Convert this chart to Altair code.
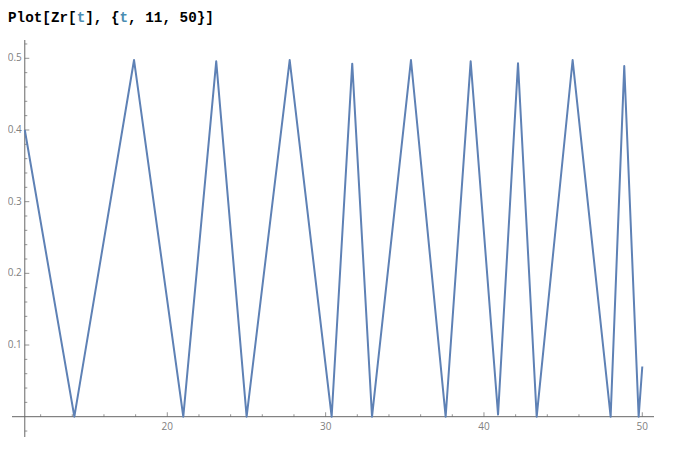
import altair as alt
import pandas as pd

# ---- data ----
t_vals = [11.0, 14.13, 17.90, 21.01, 23.09, 25.01, 27.73, 30.38, 31.68, 32.93,
          35.39, 37.58, 39.16, 40.89, 42.15, 43.33, 45.60, 48.00, 48.86, 49.77, 50.0]
z_vals = [0.400, 0.0, 0.4976, 0.0, 0.4958, 0.0, 0.4976, 0.0, 0.4925, 0.0,
          0.4976, 0.0, 0.4958, 0.003, 0.4930, 0.0, 0.4976, 0.0, 0.4893, 0.0, 0.070]

x_major = [20, 30, 40, 50]
x_labels = ["20", "30", "40", "50"]
x_minor = [12, 14, 16, 18, 22, 24, 26, 28, 32, 34, 36, 38, 42, 44, 46, 48]
y_major = [0.1, 0.2, 0.3, 0.4, 0.5]
y_labels = ["0.1", "0.2", "0.3", "0.4", "0.5"]
y_minor = [-0.02, 0.02, 0.04, 0.06, 0.08, 0.12, 0.14, 0.16, 0.18, 0.22, 0.24,
           0.26, 0.28, 0.32, 0.34, 0.36, 0.38, 0.42, 0.44, 0.46, 0.48, 0.52]

title_parts = ["Plot[Zr[", "t", "], {", "t", ", 11, 50}]"]
title_colors = ["#000000", "#4a8db1", "#000000", "#4a8db1", "#000000"]

# ---- styling ----
W, H = 642, 397
AX = "#666666"
LAB = "#808080"
LINE = "#5E81B5"

xs = alt.Scale(domain=[10.192, 50.739], nice=False, zero=False)
ys = alt.Scale(domain=[-0.02832, 0.52553], nice=False, zero=False)

one = pd.DataFrame({"a": [0]})

df = pd.DataFrame({"t": t_vals, "z": z_vals})
line = alt.Chart(df).mark_line(color=LINE, strokeWidth=2, strokeJoin="round").encode(
    x=alt.X("t:Q", scale=xs, axis=None),
    y=alt.Y("z:Q", scale=ys, axis=None),
)

x_axis = alt.Chart(one).mark_rule(color=AX, strokeWidth=1).encode(
    y=alt.YDatum(0, type="quantitative", scale=ys, axis=None),
    x=alt.value(0), x2=alt.value(W),
)
y_axis = alt.Chart(one).mark_rule(color=AX, strokeWidth=1).encode(
    x=alt.XDatum(11, type="quantitative", scale=xs, axis=None),
    y=alt.value(0), y2=alt.value(H),
)

def xticks(vals, size):
    return alt.Chart(pd.DataFrame({"v": vals})).mark_tick(
        orient="vertical", size=size, thickness=1, yOffset=-size / 2, color=AX
    ).encode(
        x=alt.X("v:Q", scale=xs, axis=None),
        y=alt.YDatum(0, type="quantitative", scale=ys, axis=None),
    )

def yticks(vals, size):
    return alt.Chart(pd.DataFrame({"v": vals})).mark_tick(
        orient="horizontal", size=size, thickness=1, xOffset=size / 2, color=AX
    ).encode(
        y=alt.Y("v:Q", scale=ys, axis=None),
        x=alt.XDatum(11, type="quantitative", scale=xs, axis=None),
    )

x_lab = alt.Chart(pd.DataFrame({"v": x_major, "lab": x_labels})).mark_text(
    align="center", baseline="top", dy=5, font="Open Sans", fontSize=10, color=LAB
).encode(
    x=alt.X("v:Q", scale=xs, axis=None),
    y=alt.YDatum(0, type="quantitative", scale=ys, axis=None),
    text="lab:N",
)
y_lab = alt.Chart(pd.DataFrame({"v": y_major, "lab": y_labels})).mark_text(
    align="right", baseline="middle", dx=-3, font="Open Sans", fontSize=10, color=LAB
).encode(
    y=alt.Y("v:Q", scale=ys, axis=None),
    x=alt.XDatum(11, type="quantitative", scale=xs, axis=None),
    text="lab:N",
)

# title typed as monospace segments
CW = 14.3 * 0.6
title_layers = []
pos = 0
for part, col in zip(title_parts, title_colors):
    title_layers.append(
        alt.Chart(one).mark_text(
            align="left", baseline="alphabetic", font="Liberation Mono",
            fontSize=14.3, fontWeight="bold", color=col
        ).encode(x=alt.value(-4 + pos * CW), y=alt.value(-18), text=alt.value(part))
    )
    pos += len(part)

chart = alt.layer(
    x_axis, y_axis,
    xticks(x_minor, 2.5), xticks(x_major, 4.5),
    yticks(y_minor, 2.5), yticks(y_major, 4.5),
    x_lab, y_lab,
    line,
    *title_layers,
).properties(
    width=W, height=H,
    autosize=alt.AutoSizeParams(type="none"),
    padding={"left": 4, "top": 32, "right": 12, "bottom": 12},
    background="white",
).configure_view(stroke=None)

chart.save("out.html", embed_options={"renderer": "svg", "actions": False})
